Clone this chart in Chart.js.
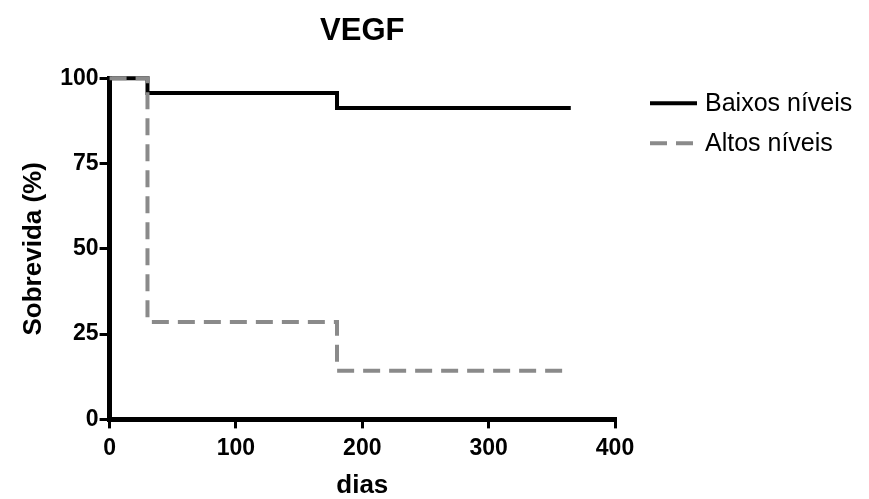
<!DOCTYPE html>
<html>
<head>
<meta charset="utf-8">
<script src="https://cdn.jsdelivr.net/npm/chart.js@4"></script>
<style>
  html, body { margin: 0; padding: 0; background: #fff; }
  #wrap { width: 869px; height: 499px; }
</style>
</head>
<body>
<div id="wrap"><canvas id="chart" width="869" height="499"></canvas></div>
<script>
// Survival curve data (days, survival %)
const seriesNames = ['Baixos níveis', 'Altos níveis'];
const lowDays = [0, 30, 180, 365];
const lowSurvival = [100, 95.65, 91.3, 91.3];
const highDays = [0, 30, 180, 365];
const highSurvival = [100, 28.57, 14.29, 14.29];
const xTicks = [0, 100, 200, 300, 400];
const yTicks = [0, 25, 50, 75, 100];

// Build {x, y} points for a step curve
function toPoints(days, values) {
    return days.map((d, i) => ({ x: d, y: values[i] }));
}

const FONT = 'Arial, "Liberation Sans", sans-serif';

// The built-in right legend gets squeezed, so draw the legend items
// next to the plot ourselves (items come from the legend's generateLabels)
const sideLegend = {
    id: 'sideLegend',
    afterDraw(chart) {
        const area = chart.chartArea;
        const items = Chart.defaults.plugins.legend.labels.generateLabels(chart)
            .sort((a, b) => a.datasetIndex - b.datasetIndex);
        const c = chart.ctx;
        const x0 = area.right + 35;
        let y = area.top + 25;
        c.save();
        c.font = '25px ' + FONT;
        c.textBaseline = 'middle';
        c.fillStyle = '#000';
        items.forEach(item => {
            c.beginPath();
            c.strokeStyle = item.strokeStyle;
            c.lineWidth = item.lineWidth;
            c.setLineDash(item.lineDash || []);
            c.moveTo(x0, y);
            c.lineTo(x0 + 47, y);
            c.stroke();
            c.setLineDash([]);
            c.fillText(item.text, x0 + 55, y + 1);
            y += 40;
        });
        c.restore();
    }
};

const ctx = document.getElementById('chart').getContext('2d');
new Chart(ctx, {
    type: 'line',
    data: {
        datasets: [
            {
                label: seriesNames[0],
                data: toPoints(lowDays, lowSurvival),
                borderColor: '#000000',
                backgroundColor: '#000000',
                borderWidth: 4,
                stepped: true,
                pointRadius: 0,
                borderJoinStyle: 'miter',
                clip: 6,
                order: 2
            },
            {
                label: seriesNames[1],
                data: toPoints(highDays, highSurvival),
                borderColor: '#8a8a8a',
                backgroundColor: '#8a8a8a',
                borderWidth: 4,
                borderDash: [17, 9],
                stepped: true,
                pointRadius: 0,
                borderJoinStyle: 'miter',
                clip: 6,
                order: 1
            }
        ]
    },
    options: {
        responsive: false,
        animation: false,
        layout: { padding: { top: 2, right: 254, bottom: 0, left: 18 } },
        plugins: {
            tooltip: { enabled: false },
            legend: { display: false },
            title: {
                display: true,
                text: 'VEGF',
                fullSize: false,
                color: '#000',
                font: { family: FONT, size: 31, weight: 'bold' },
                padding: { top: 11, bottom: 28 }
            }
        },
        scales: {
            x: {
                type: 'linear',
                min: 0,
                max: 400,
                afterBuildTicks: axis => { axis.ticks = xTicks.map(v => ({ value: v })); },
                border: { display: true, color: '#000', width: 5 },
                grid: { display: true, drawOnChartArea: false, drawTicks: true, tickLength: 9, lineWidth: 3, color: '#000' },
                ticks: { color: '#000', padding: 6, maxRotation: 0, font: { family: FONT, size: 23, weight: 'bold' } },
                title: {
                    display: true,
                    text: 'dias',
                    color: '#000',
                    font: { family: FONT, size: 26, weight: 'bold', lineHeight: 1 },
                    padding: { top: 5, bottom: 0 }
                }
            },
            y: {
                min: 0,
                max: 100,
                afterBuildTicks: axis => { axis.ticks = yTicks.map(v => ({ value: v })); },
                border: { display: true, color: '#000', width: 5 },
                grid: { display: true, drawOnChartArea: false, drawTicks: true, tickLength: 10, lineWidth: 3, color: '#000' },
                ticks: { color: '#000', padding: 1, font: { family: FONT, size: 23, weight: 'bold' } },
                title: {
                    display: true,
                    text: 'Sobrevida (%)',
                    color: '#000',
                    font: { family: FONT, size: 26, weight: 'bold' },
                    padding: { top: 0, bottom: 10 }
                }
            }
        }
    },
    plugins: [sideLegend]
});
</script>
</body>
</html>
